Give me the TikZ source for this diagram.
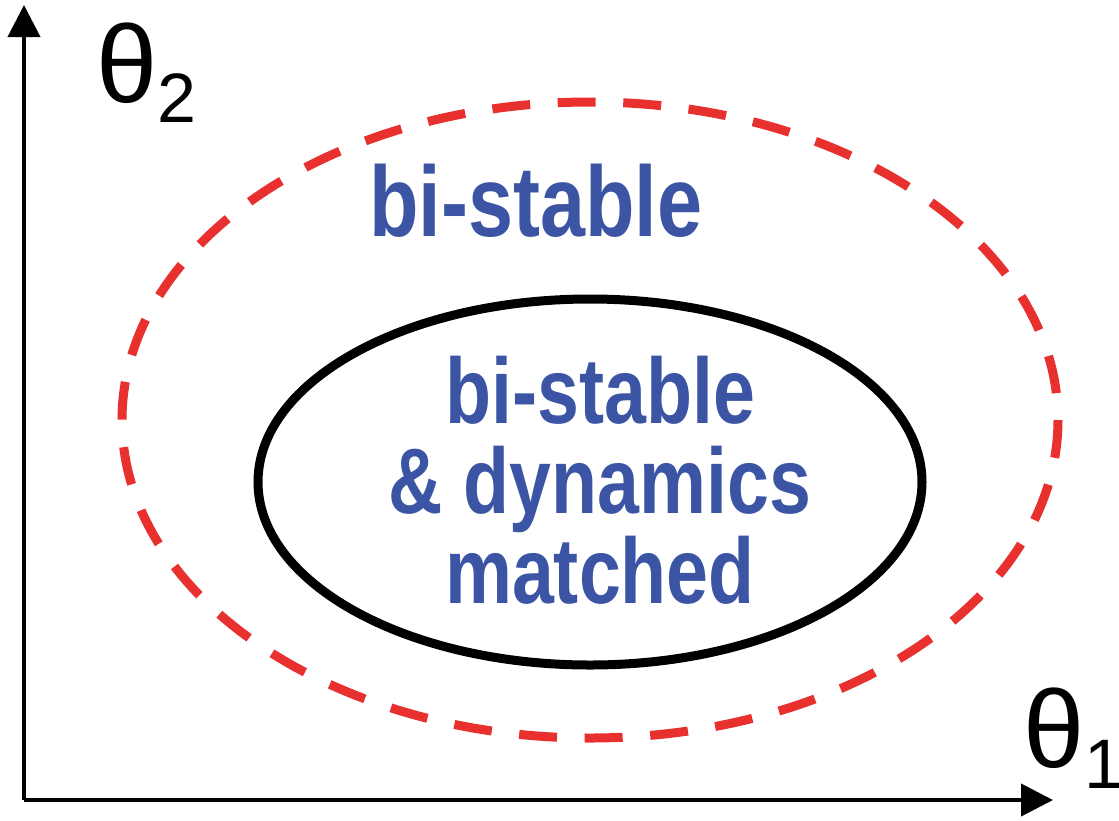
\documentclass[tikz,border=0pt]{standalone}
\usepackage{fontspec}
\setmainfont{Liberation Sans}
\newfontfamily\narrowsans[FakeStretch=0.81]{Liberation Sans}
\usetikzlibrary{arrows.meta}
\definecolor{regionblue}{RGB}{59,85,164}
\definecolor{boundred}{RGB}{232,48,47}
\tikzset{
  axis/.style={line width=4pt, -{Triangle[length=32pt,width=32pt]}},
  outerbound/.style={boundred, line width=9pt, dash pattern=on 38pt off 27.6pt},
  innerbound/.style={black, line width=9pt},
  axislabel/.style={inner sep=0pt, anchor=base west, font=\fontsize{110}{110}\selectfont},
  regionlabel/.style={inner sep=0pt, regionblue, align=center,
    font=\narrowsans\bfseries\fontsize{93}{90}\selectfont},
}
% lowered subscript digit; its box is trimmed to the glyph so the label
% does not reach past the page edge
\newcommand{\lowsub}[2]{\raisebox{-#1}{\makebox[30pt][l]{\fontsize{70}{70}\selectfont #2}}}
\begin{document}
\begin{tikzpicture}[x=1pt,y=-1pt]
  \useasboundingbox (0,0) rectangle (1119,820);
  % axes
  \coordinate (origin) at (24,800);
  \coordinate (ytip) at (24,5);
  \coordinate (xtip) at (1053,800);
  \draw[axis] (origin) -- (ytip);
  \draw[axis] (origin) -- (xtip);
  % parameter regions
  \draw[outerbound] (590,420) ellipse [x radius=468, y radius=318];
  \draw[innerbound] (590,482) ellipse [x radius=332, y radius=183];
  % labels
  \node[axislabel] (t2) at (96,102) {θ\lowsub{20pt}{2}};
  \node[axislabel] (t1) at (1023,767) {θ\lowsub{21pt}{1}};
  \node[regionlabel, anchor=base, font=\narrowsans\bfseries\fontsize{100}{100}\selectfont] (outer) at (536,236) {bi-stable};
  \node[regionlabel, anchor=base] (inner) at (600,603) {bi-stable\\\& dynamics\\matched};
\end{tikzpicture}
\end{document}
